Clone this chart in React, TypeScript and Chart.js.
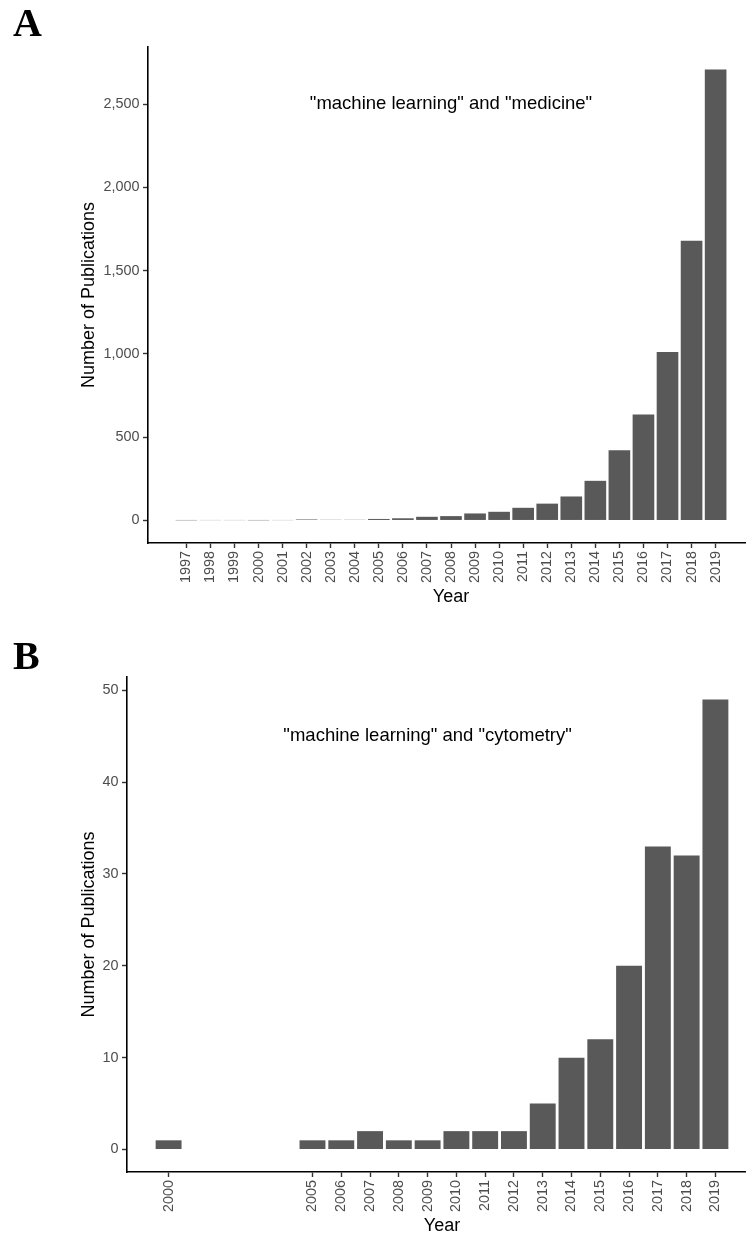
import React, { useEffect, useRef } from 'react';
import { Chart, registerables } from 'chart.js';

Chart.register(...registerables);

// ---------- Panel A data ----------
const YEARS_A = [1997, 1998, 1999, 2000, 2001, 2002, 2003, 2004, 2005, 2006, 2007, 2008, 2009, 2010, 2011, 2012, 2013, 2014, 2015, 2016, 2017, 2018, 2019];
const PUBS_A = [1, 2, 2, 1, 2, 6, 4, 4, 9, 13, 22, 26, 42, 52, 76, 101, 144, 238, 421, 636, 1012, 1680, 2708];
const Y_TICKS_A = [0, 500, 1000, 1500, 2000, 2500];
const LABEL_A = '"machine learning" and "medicine"';
const LABEL_A_X = 2008;
const LABEL_A_Y = 2500;

// ---------- Panel B data ----------
const YEARS_B = [2000, 2005, 2006, 2007, 2008, 2009, 2010, 2011, 2012, 2013, 2014, 2015, 2016, 2017, 2018, 2019];
const PUBS_B = [1, 1, 1, 2, 1, 1, 2, 2, 2, 5, 10, 12, 20, 33, 32, 49];
const Y_TICKS_B = [0, 10, 20, 30, 40, 50];
const LABEL_B = '"machine learning" and "cytometry"';
const LABEL_B_X = 2009;
const LABEL_B_Y = 45;

const SANS = '"Liberation Sans", Arial, Helvetica, sans-serif';

type PanelProps = {
  top: number;
  width: number;
  height: number;
  padBottom: number;
  yAxisWidth: number;
  years: number[];
  values: number[];
  yTicks: number[];
  label: string;
  labelX: number;
  labelY: number;
};

function BarPanel(p: PanelProps) {
  const ref = useRef<HTMLCanvasElement | null>(null);

  useEffect(() => {
    if (!ref.current) return;
    const first = p.years[0];
    const last = p.years[p.years.length - 1];
    const lo = first - 0.45;
    const hi = last + 0.45;
    const xExp = (hi - lo) * 0.05;
    const maxV = Math.max(...p.values);
    const yExp = maxV * 0.05;

    const annotPlugin = {
      id: 'annot',
      afterDraw(chart: any) {
        const ctx = chart.ctx;
        const x = chart.scales.x.getPixelForValue(p.labelX);
        const y = chart.scales.y.getPixelForValue(p.labelY);
        ctx.save();
        ctx.font = `18.5px ${SANS}`;
        ctx.fillStyle = '#000';
        ctx.textAlign = 'center';
        ctx.textBaseline = 'middle';
        ctx.fillText(p.label, x, y);
        ctx.restore();
      },
    };

    const tickFont = { family: SANS, size: 14.4 };
    const titleFont = { family: SANS, size: 18 };

    const chart = new Chart(ref.current, {
      type: 'bar',
      data: {
        datasets: [
          {
            data: p.years.map((yr, i) => ({ x: yr, y: p.values[i] })),
            backgroundColor: '#595959',
            borderWidth: 0,
            barPercentage: 0.9,
            categoryPercentage: 1,
          },
        ],
      },
      options: {
        animation: false,
        responsive: false,
        maintainAspectRatio: false,
        layout: { padding: { top: 47, left: 78, right: 0, bottom: p.padBottom } },
        plugins: { legend: { display: false }, tooltip: { enabled: false } },
        scales: {
          x: {
            type: 'linear',
            min: lo - xExp,
            max: hi + xExp,
            offset: false,
            afterBuildTicks: (s: any) => {
              s.ticks = p.years.map((v) => ({ value: v }));
            },
            afterFit: (s: any) => {
              s.height = 65;
            },
            ticks: {
              autoSkip: false,
              minRotation: 90,
              maxRotation: 90,
              padding: 3,
              color: '#4d4d4d',
              font: tickFont,
              callback: (v: any) => String(v),
            },
            grid: {
              display: true,
              drawOnChartArea: false,
              drawTicks: true,
              tickLength: 5,
              tickColor: '#333333',
              tickWidth: 1.4,
              offset: false,
            },
            border: { display: true, color: '#000', width: 1.6 },
            title: { display: true, text: 'Year', color: '#000', font: titleFont, padding: 0 },
          },
          y: {
            type: 'linear',
            min: -yExp,
            max: maxV + yExp,
            afterBuildTicks: (s: any) => {
              s.ticks = p.yTicks.map((v) => ({ value: v }));
            },
            afterFit: (s: any) => {
              s.width = p.yAxisWidth;
            },
            ticks: {
              padding: 3.5,
              color: '#4d4d4d',
              font: tickFont,
              callback: (v: any) => Number(v).toLocaleString('en-US'),
            },
            grid: {
              display: true,
              drawOnChartArea: false,
              drawTicks: true,
              tickLength: 5,
              tickColor: '#333333',
              tickWidth: 1.4,
            },
            border: { display: true, color: '#000', width: 1.6 },
            title: {
              display: true,
              text: 'Number of Publications',
              color: '#000',
              font: titleFont,
              padding: 0,
            },
          },
        },
      } as any,
      plugins: [annotPlugin],
    });
    return () => chart.destroy();
  }, []);

  return (
    <canvas
      ref={ref}
      width={p.width}
      height={p.height}
      style={{ position: 'absolute', left: 0, top: p.top, width: p.width, height: p.height }}
    />
  );
}

const panelLetter: React.CSSProperties = {
  position: 'absolute',
  left: 13,
  fontFamily: '"Liberation Serif", "Times New Roman", serif',
  fontWeight: 'bold',
  fontSize: 40,
  lineHeight: '40px',
  color: '#000',
};

export default function App() {
  return (
    <div
      style={{
        position: 'absolute',
        left: 0,
        top: 0,
        width: 746,
        height: 1237,
        overflow: 'hidden',
        background: '#fff',
      }}
    >
      <BarPanel
        top={0}
        width={754}
        height={620}
        padBottom={12}
        yAxisWidth={70}
        years={YEARS_A}
        values={PUBS_A}
        yTicks={Y_TICKS_A}
        label={LABEL_A}
        labelX={LABEL_A_X}
        labelY={LABEL_A_Y}
      />
      <BarPanel
        top={630}
        width={757}
        height={607}
        padBottom={0}
        yAxisWidth={49}
        years={YEARS_B}
        values={PUBS_B}
        yTicks={Y_TICKS_B}
        label={LABEL_B}
        labelX={LABEL_B_X}
        labelY={LABEL_B_Y}
      />
      <div style={{ ...panelLetter, top: 3 }}>A</div>
      <div style={{ ...panelLetter, top: 636 }}>B</div>
    </div>
  );
}
